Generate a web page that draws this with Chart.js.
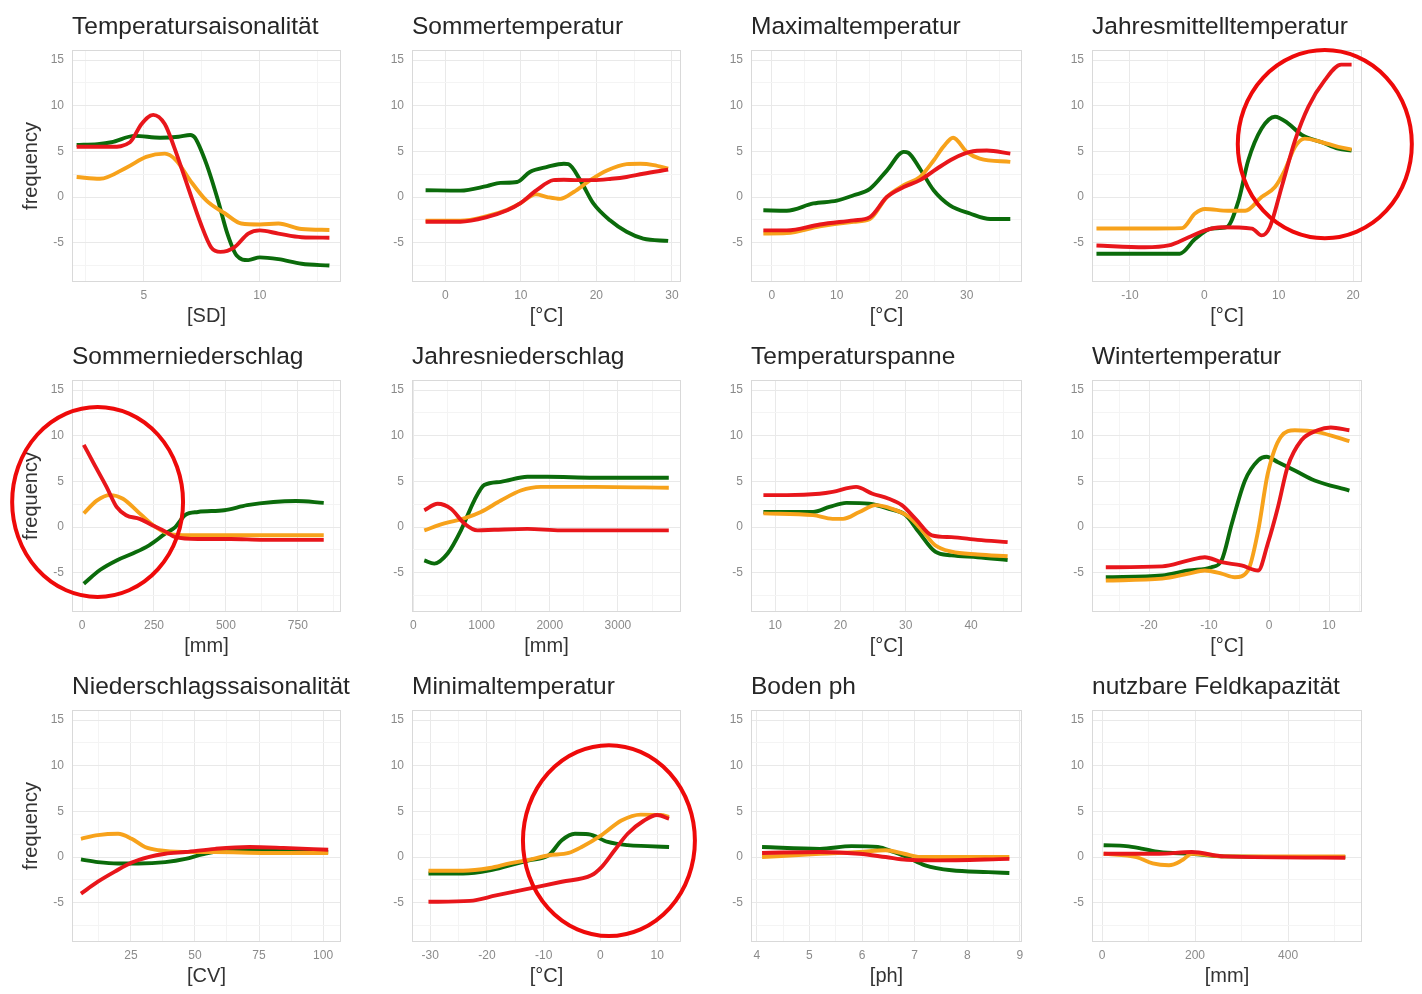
<!DOCTYPE html>
<html>
<head>
<meta charset="utf-8">
<script src="https://cdn.jsdelivr.net/npm/chart.js@4.4.0/dist/chart.umd.min.js"></script>
<style>
  body { margin: 0; background: #fff; width: 1422px; height: 994px; position: relative; overflow: hidden; }
  canvas { position: absolute; }
</style>
</head>
<body>
<script>
// ---------- data: [x, frequency] ----------
const tsaGreen  = [[2.1,5.7],[3.0,5.8],[3.6,6.0],[4.6,6.7],[5.7,6.5],[6.5,6.6],[7.0,6.8],[7.2,6.5],[7.7,3.6],[8.2,-0.4],[8.6,-4.0],[9.0,-6.4],[9.5,-6.9],[10.0,-6.6],[10.8,-6.8],[11.8,-7.3],[13.0,-7.5]];
const tsaOrange = [[2.1,2.2],[3.1,2.0],[4.3,3.3],[5.1,4.4],[5.9,4.75],[6.4,4.0],[7.0,1.8],[7.7,-0.4],[8.5,-1.8],[9.2,-2.9],[10.0,-3.0],[10.8,-2.9],[11.8,-3.5],[13.0,-3.6]];
const tsaRed    = [[2.1,5.5],[3.6,5.5],[4.4,6.0],[4.9,8.0],[5.4,9.0],[5.9,8.0],[6.3,5.5],[6.9,1.1],[7.45,-2.9],[7.9,-5.5],[8.3,-6.0],[8.9,-5.5],[9.5,-4.0],[10.0,-3.65],[10.8,-4.0],[11.8,-4.4],[13.0,-4.45]];

const stGreen  = [[-2.6,0.75],[2.0,0.7],[5.5,1.2],[7.3,1.55],[9.5,1.65],[11.2,2.75],[13.5,3.3],[15.7,3.65],[16.3,3.6],[17.9,1.8],[19.6,-0.7],[21.8,-2.55],[24.0,-3.8],[26.2,-4.55],[29.5,-4.8]];
const stOrange = [[-2.6,-2.6],[2.0,-2.6],[5.5,-2.1],[8.2,-1.4],[9.9,-0.7],[12.0,0.3],[13.5,0.0],[15.2,-0.2],[17.0,0.55],[19.2,1.85],[21.4,2.9],[24.0,3.6],[25.8,3.65],[27.6,3.5],[29.5,3.1]];
const stRed    = [[-2.6,-2.7],[2.0,-2.7],[5.5,-2.2],[8.2,-1.45],[9.9,-0.7],[12.1,0.75],[14.3,1.85],[15.7,1.9],[17.5,1.85],[19.6,1.85],[22.0,2.0],[24.0,2.2],[26.2,2.55],[29.5,3.0]];

const maxGreen  = [[-1.3,-1.45],[2.3,-1.5],[6.4,-0.7],[10,-0.4],[12.6,0.2],[15.1,0.9],[17.7,2.9],[20.3,4.95],[21.0,4.85],[22.8,3.1],[24.9,0.75],[27.4,-0.9],[30.5,-1.8],[33.6,-2.4],[36.7,-2.4]];
const maxOrange = [[-1.3,-4.0],[2.3,-3.95],[7.4,-3.2],[12.6,-2.7],[15.1,-2.4],[17.7,0],[20.3,1.3],[22.8,2.2],[24.9,4.0],[26.4,5.5],[27.9,6.5],[30,4.95],[32,4.2],[36.7,3.85]];
const maxRed    = [[-1.3,-3.65],[2.3,-3.65],[7.4,-3.0],[12.6,-2.55],[15.1,-2.2],[17.7,0],[20.3,1.1],[22.8,1.85],[25.4,3.1],[27.9,4.2],[30.5,4.95],[33.1,5.1],[36.7,4.75]];

const jmtGreen  = [[-14.5,-6.2],[-8,-6.2],[-3.3,-6.2],[-1.25,-4.6],[1,-3.45],[3,-3.3],[4.6,-0.4],[5.9,4.0],[7.7,7.5],[9.5,8.8],[11.3,8.05],[13.1,6.8],[15.8,6.0],[18,5.3],[19.8,5.1]];
const jmtOrange = [[-14.5,-3.45],[-8,-3.45],[-3,-3.4],[-1.25,-1.8],[0.1,-1.3],[3.2,-1.5],[5.5,-1.5],[7.7,0],[9.5,1.1],[10.8,2.9],[12.2,5.5],[13.5,6.4],[15.8,6.0],[18,5.5],[19.8,5.2]];
const jmtRed    = [[-14.5,-5.3],[-8,-5.5],[-4.8,-5.3],[-2.1,-4.4],[0.1,-3.65],[2.3,-3.3],[6.4,-3.45],[7.7,-4.2],[8.8,-3.3],[10.4,1.1],[12.2,6.2],[14,9.9],[16.2,12.8],[18.4,14.5],[19.8,14.5]];

const snGreen  = [[6,-6.2],[62,-4.7],[120,-3.65],[176,-2.9],[233,-2.0],[290,-0.7],[324,0],[358,1.3],[403,1.65],[494,1.84],[574,2.4],[665,2.75],[744,2.85],[840,2.65]];
const snOrange = [[6,1.5],[51,2.9],[97,3.5],[142,3.1],[200,1.5],[256,0],[312,-0.8],[403,-0.9],[840,-0.9]];
const snRed    = [[6,9.0],[40,7.0],[85,4.4],[120,2.2],[153,1.3],[200,0.9],[244,0.2],[290,-0.5],[324,-1.1],[403,-1.3],[517,-1.3],[630,-1.4],[840,-1.4]];

const jnGreen  = [[160,-3.65],[307,-4.0],[502,-2.9],[698,-0.36],[893,2.9],[1039,4.6],[1283,4.95],[1673,5.5],[1966,5.5],[2649,5.4],[3746,5.4]];
const jnOrange = [[160,-0.36],[454,0.4],[746,0.95],[990,1.65],[1283,2.9],[1576,4.0],[1868,4.4],[2649,4.4],[3746,4.3]];
const jnRed    = [[160,1.84],[356,2.55],[551,2.0],[746,0.4],[941,-0.36],[1185,-0.3],[1673,-0.2],[2161,-0.36],[2893,-0.36],[3746,-0.36]];

const tspGreen  = [[8.2,1.65],[15.8,1.65],[18.3,2.2],[20.9,2.65],[24.4,2.55],[27.4,2.0],[30,1.3],[32,-0.55],[34.5,-2.7],[37,-3.1],[41,-3.3],[45.6,-3.6]];
const tspOrange = [[8.2,1.5],[15.8,1.3],[18.8,0.9],[20.4,0.9],[22.9,1.65],[25.4,2.4],[27.9,2.0],[30.5,1.1],[32.5,-0.36],[34.5,-2.0],[37,-2.7],[41,-3.0],[45.6,-3.2]];
const tspRed    = [[8.2,3.5],[11.8,3.5],[16.8,3.65],[18.8,3.85],[22.4,4.4],[24.9,3.65],[27.4,3.1],[29.4,2.4],[31.5,0.9],[34,-0.9],[37,-1.1],[41,-1.4],[45.6,-1.65]];

const wtGreen  = [[-27.2,-5.5],[-17.8,-5.3],[-13.4,-4.75],[-9.6,-4.4],[-7.9,-3.65],[-6.2,0.36],[-4.0,5.1],[-1.8,7.3],[-0.4,7.7],[1.5,7.1],[4.3,6.2],[7.6,5.1],[13.4,4.0]];
const wtOrange = [[-27.2,-5.85],[-17.8,-5.65],[-13.4,-5.1],[-10.7,-4.75],[-7.9,-5.1],[-5.7,-5.5],[-3.5,-4.75],[-1.8,-0.36],[-0.2,5.86],[2.0,9.9],[4.3,10.6],[8.1,10.4],[13.4,9.4]];
const wtRed    = [[-27.2,-4.4],[-17.8,-4.3],[-13.4,-3.65],[-10.7,-3.3],[-7.9,-3.85],[-4.6,-4.2],[-1.8,-4.75],[-0.2,-1.8],[1.5,2.2],[3.1,6.6],[5.4,9.5],[8.1,10.6],[10.3,10.9],[13.4,10.6]];

const nsGreen  = [[5.5,-0.25],[12.1,-0.55],[20,-0.7],[27.9,-0.7],[38.4,-0.55],[46.3,-0.2],[52.9,0.3],[62,0.74],[78,0.8],[102,0.55]];
const nsOrange = [[5.5,2.0],[12.1,2.4],[20,2.55],[25.3,2.0],[30.5,1.1],[35.8,0.74],[45,0.55],[58,0.55],[78,0.45],[102,0.45]];
const nsRed    = [[5.5,-4.0],[12.1,-2.7],[18.7,-1.6],[25.3,-0.6],[31.8,0],[38.4,0.36],[46.3,0.55],[58,0.9],[71.3,1.1],[84.5,1.0],[102,0.8]];

const minGreen  = [[-30.3,-1.8],[-24.2,-1.8],[-19.5,-1.45],[-16,-0.9],[-12.6,-0.36],[-9.1,0.2],[-6.8,1.84],[-4.5,2.55],[-2.1,2.5],[1.3,1.65],[4.8,1.3],[8.3,1.2],[12.1,1.1]];
const minOrange = [[-30.3,-1.5],[-24.2,-1.5],[-19.5,-1.2],[-16,-0.7],[-12.6,-0.3],[-9.1,0.2],[-5.6,0.45],[-3.3,1.1],[0.2,2.4],[3.7,4.0],[7.1,4.65],[10.6,4.6],[12.1,4.4]];
const minRed    = [[-30.3,-4.9],[-23,-4.8],[-18.4,-4.2],[-12.6,-3.45],[-6.8,-2.7],[-1.6,-2.0],[0.2,-1.1],[2.5,0.74],[4.8,2.55],[7.7,4.0],[10,4.6],[12.1,4.2]];

const phGreen  = [[4.1,1.1],[5.2,0.9],[5.8,1.2],[6.3,1.1],[6.6,0.55],[6.85,0],[7.2,-0.9],[7.7,-1.45],[8.4,-1.65],[8.8,-1.75]];
const phOrange = [[4.1,0],[5.2,0.36],[5.95,0.55],[6.45,0.74],[6.8,0.36],[7.1,0],[7.7,0],[8.8,0]];
const phRed    = [[4.1,0.45],[5.2,0.55],[5.95,0.36],[6.45,0],[6.85,-0.3],[7.4,-0.36],[8.8,-0.2]];

const fkGreen  = [[3.5,1.3],[52,1.2],[88,0.9],[123,0.55],[193,0.36],[263,0.07],[523,0]];
const fkOrange = [[3.5,0.36],[74,0],[109,-0.7],[144,-0.9],[172,-0.36],[193,0.36],[263,0.07],[523,0.07]];
const fkRed    = [[3.5,0.36],[123,0.36],[193,0.55],[263,0.07],[523,-0.07]];

// y axis (shared by all panels)
const yTicks = [-5, 0, 5, 10, 15];
const yMinor = [-7.5, -2.5, 2.5, 7.5, 12.5];

// highlight rings: [centre x, centre y, radius x, radius y] in data units
const jmtRing = [16.2, 5.8, 11.7, 10.3];
const snRing  = [54, 2.75, 297, 10.4];
const minRing = [1.5, 1.8, 15.15, 10.45];

// ---------- panels ----------
const panels = [
  { title: 'Temperatursaisonalität', unit: '[SD]', xMin: 1.9, xMax: 13.5, xTicks: [5, 10], xMinor: [2.5, 7.5, 12.5], g: tsaGreen, o: tsaOrange, r: tsaRed },
  { title: 'Sommertemperatur', unit: '[°C]', xMin: -4.4, xMax: 31.2, xTicks: [0, 10, 20, 30], xMinor: [5, 15, 25], g: stGreen, o: stOrange, r: stRed },
  { title: 'Maximaltemperatur', unit: '[°C]', xMin: -3.2, xMax: 38.5, xTicks: [0, 10, 20, 30], xMinor: [5, 15, 25, 35], g: maxGreen, o: maxOrange, r: maxRed },
  { title: 'Jahresmittelltemperatur', unit: '[°C]', xMin: -15.1, xMax: 21.2, xTicks: [-10, 0, 10, 20], xMinor: [-15, -5, 5, 15], g: jmtGreen, o: jmtOrange, r: jmtRed, ring: jmtRing },
  { title: 'Sommerniederschlag', unit: '[mm]', xMin: -35, xMax: 900, xTicks: [0, 250, 500, 750], xMinor: [125, 375, 625, 875], g: snGreen, o: snOrange, r: snRed, ring: snRing },
  { title: 'Jahresniederschlag', unit: '[mm]', xMin: -20, xMax: 3925, xTicks: [0, 1000, 2000, 3000], xMinor: [500, 1500, 2500, 3500], g: jnGreen, o: jnOrange, r: jnRed },
  { title: 'Temperaturspanne', unit: '[°C]', xMin: 6.3, xMax: 47.8, xTicks: [10, 20, 30, 40], xMinor: [15, 25, 35, 45], g: tspGreen, o: tspOrange, r: tspRed },
  { title: 'Wintertemperatur', unit: '[°C]', xMin: -29.5, xMax: 15.5, xTicks: [-20, -10, 0, 10], xMinor: [-25, -15, -5, 5, 15], g: wtGreen, o: wtOrange, r: wtRed },
  { title: 'Niederschlagssaisonalität', unit: '[CV]', xMin: 2, xMax: 107, xTicks: [25, 50, 75, 100], xMinor: [12.5, 37.5, 62.5, 87.5], g: nsGreen, o: nsOrange, r: nsRed },
  { title: 'Minimaltemperatur', unit: '[°C]', xMin: -33.2, xMax: 14.2, xTicks: [-30, -20, -10, 0, 10], xMinor: [-25, -15, -5, 5], g: minGreen, o: minOrange, r: minRed, ring: minRing },
  { title: 'Boden ph', unit: '[ph]', xMin: 3.89, xMax: 9.04, xTicks: [4, 5, 6, 7, 8, 9], xMinor: [4.5, 5.5, 6.5, 7.5, 8.5], g: phGreen, o: phOrange, r: phRed },
  { title: 'nutzbare Feldkapazität', unit: '[mm]', xMin: -21.5, xMax: 559, xTicks: [0, 200, 400], xMinor: [100, 300, 500], g: fkGreen, o: fkOrange, r: fkRed },
];

const colLeft = [72, 412, 751, 1092];
const colRight = [341, 681, 1022, 1362];
const rowTop = [50, 380, 710];
const plotH = 232, yAxisW = 72, xAxisH = 46, padTop = 50, padRight = 60;

const FONT = '"Liberation Sans", Arial, Helvetica, sans-serif';
const GREEN = '#0b6b0b', ORANGE = '#f7a21b', RED = '#e8161b';

// Titel, Rahmen und Kreise
const panelDeco = {
  id: 'panelDeco',
  beforeDatasetsDraw(chart) {
    const { ctx, chartArea: a } = chart;
    ctx.save();
    ctx.strokeStyle = '#d9d9d9';
    ctx.lineWidth = 1;
    ctx.strokeRect(a.left + 0.5, a.top + 0.5, a.width - 1, a.height - 1);
    ctx.restore();
  },
  afterDraw(chart) {
    const { ctx, chartArea: a, scales } = chart;
    const p = chart.options.plugins.panelDeco;
    ctx.save();
    ctx.fillStyle = '#262626';
    ctx.font = '24.5px ' + FONT;
    ctx.textBaseline = 'alphabetic';
    ctx.textAlign = 'left';
    ctx.fillText(p.title, a.left, a.top - 16);
    if (p.ring) {
      const [cx, cy, rx, ry] = p.ring;
      const px = scales.x.getPixelForValue(cx), py = scales.y.getPixelForValue(cy);
      const prx = Math.abs(scales.x.getPixelForValue(cx + rx) - px);
      const pry = Math.abs(scales.y.getPixelForValue(cy + ry) - py);
      ctx.beginPath();
      ctx.ellipse(px, py, prx, pry, 0, 0, Math.PI * 2);
      ctx.strokeStyle = '#ee0a0a';
      ctx.lineWidth = 4;
      ctx.stroke();
    }
    ctx.restore();
  }
};

function line(data, color, order) {
  return {
    data: data.map(([x, y]) => ({ x, y })),
    borderColor: color, backgroundColor: color,
    borderWidth: 3.9, pointRadius: 0,
    cubicInterpolationMode: 'monotone',
    order,
  };
}

panels.forEach((p, i) => {
  const col = i % 4, row = Math.floor(i / 4);
  const plotW = colRight[col] - colLeft[col];
  const canvas = document.createElement('canvas');
  const w = plotW + yAxisW + padRight, h = padTop + plotH + xAxisH;
  canvas.width = w; canvas.height = h;
  canvas.style.left = (colLeft[col] - yAxisW) + 'px';
  canvas.style.top = (rowTop[row] - padTop) + 'px';
  canvas.style.width = w + 'px'; canvas.style.height = h + 'px';
  document.body.appendChild(canvas);

  const xMajor = new Set(p.xTicks), yMajor = new Set(yTicks);
  const xAll = [...p.xTicks, ...p.xMinor].filter(v => v >= p.xMin && v <= p.xMax).sort((a, b) => a - b);
  const yAll = [...yTicks, ...yMinor].sort((a, b) => a - b);

  new Chart(canvas, {
    type: 'line',
    data: { datasets: [line(p.r, RED, 0), line(p.o, ORANGE, 1), line(p.g, GREEN, 2)] },
    options: {
      responsive: false,
      animation: false,
      layout: { padding: { top: padTop, right: padRight, left: 0, bottom: 0 } },
      plugins: {
        legend: { display: false },
        tooltip: { enabled: false },
        panelDeco: { title: p.title, ring: p.ring },
      },
      scales: {
        x: {
          type: 'linear', min: p.xMin, max: p.xMax,
          afterBuildTicks: s => { s.ticks = xAll.map(v => ({ value: v })); },
          afterFit: s => { s.height = xAxisH; },
          ticks: {
            autoSkip: false, maxRotation: 0, padding: 6, color: '#8a8a8a',
            font: { family: FONT, size: 12 },
            callback: v => xMajor.has(v) ? String(v) : '',
          },
          grid: { drawTicks: false, color: c => xMajor.has(c.tick.value) ? '#e9e9e9' : '#f4f4f4' },
          border: { display: false },
          title: { display: true, text: p.unit, color: '#333', font: { family: FONT, size: 20 }, padding: 0 },
        },
        y: {
          type: 'linear', min: -9.3, max: 16.1,
          afterBuildTicks: s => { s.ticks = yAll.map(v => ({ value: v })); },
          afterFit: s => { s.width = yAxisW; },
          ticks: {
            autoSkip: false, padding: 8, color: '#8a8a8a',
            font: { family: FONT, size: 12 },
            callback: v => yMajor.has(v) ? String(v) : '',
          },
          grid: { drawTicks: false, color: c => yMajor.has(c.tick.value) ? '#e9e9e9' : '#f4f4f4' },
          border: { display: false },
          title: { display: col === 0, text: 'frequency', color: '#333', font: { family: FONT, size: 20 }, padding: { top: 19, bottom: 0 } },
        },
      },
    },
    plugins: [panelDeco],
  });
});
</script>
</body>
</html>
